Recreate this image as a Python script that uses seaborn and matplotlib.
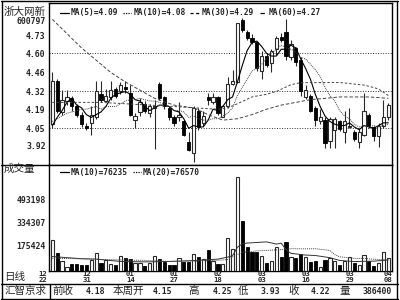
import numpy as np
import pandas as pd
import matplotlib
matplotlib.use("Agg")
import matplotlib.pyplot as plt
import seaborn as sns
from matplotlib.lines import Line2D

sns.set_theme(style="white")
plt.rcParams['font.family'] = ['DejaVu Sans Mono', 'Noto Sans CJK SC']

# ---------------- data ----------------
opens = [4.08, 4.40, 4.17, 4.25, 4.27, 4.21, 4.15, 4.07, 4.09, 4.13,
         4.30, 4.25, 4.28, 4.34, 4.32, 4.35, 4.31, 4.11, 4.17, 4.23,
         4.16, 4.20, 4.375, 4.28, 4.20, 4.13, 4.13, 4.10, 3.95, 3.87,
         4.18, 4.09, 4.28, 4.24, 4.28, 4.13, 4.21, 4.375, 4.39, 4.845,
         4.76, 4.71, 4.68, 4.47, 4.58, 4.53, 4.63, 4.72, 4.757, 4.57,
         4.64, 4.55, 4.28, 4.29, 4.20, 4.10, 4.11, 3.96, 4.04, 4.10,
         4.02, 4.06, 4.02, 3.95, 4.00, 4.15, 4.06, 3.99, 4.07, 4.13]
highs = [4.46, 4.41, 4.33, 4.33, 4.29, 4.23, 4.17, 4.09, 4.21, 4.40,
         4.40, 4.34, 4.40, 4.35, 4.39, 4.40, 4.37, 4.16, 4.27, 4.25,
         4.23, 4.26, 4.39, 4.29, 4.21, 4.15, 4.24, 4.11, 4.02, 4.21,
         4.20, 4.18, 4.31, 4.31, 4.29, 4.22, 4.43, 4.48, 4.82, 4.86,
         4.77, 4.74, 4.68, 4.62, 4.60, 4.63, 4.73, 4.75, 4.85, 4.70,
         4.65, 4.57, 4.37, 4.30, 4.21, 4.19, 4.13, 4.13, 4.13, 4.11,
         4.18, 4.20, 4.04, 4.05, 4.31, 4.16, 4.07, 4.09, 4.26, 4.235]
lows = [4.05, 4.16, 4.15, 4.22, 4.18, 4.13, 4.06, 4.04, 4.00, 4.12,
        4.24, 4.24, 4.26, 4.27, 4.30, 4.31, 4.14, 4.05, 4.14, 4.16,
        4.13, 3.90, 4.26, 4.19, 4.11, 4.07, 4.10, 3.99, 3.88, 3.80,
        4.04, 4.07, 4.22, 4.23, 4.15, 4.13, 4.20, 4.37, 4.38, 4.76,
        4.70, 4.67, 4.47, 4.41, 4.50, 4.46, 4.59, 4.68, 4.55, 4.55,
        4.51, 4.29, 4.265, 4.17, 4.07, 4.08, 3.905, 3.905, 3.905, 4.03,
        3.94, 4.05, 3.96, 3.905, 3.99, 4.05, 3.96, 3.91, 4.05, 4.11]
closes = [4.40, 4.18, 4.26, 4.28, 4.21, 4.15, 4.08, 4.05, 4.15, 4.32,
          4.26, 4.29, 4.33, 4.29, 4.37, 4.34, 4.15, 4.14, 4.24, 4.18,
          4.21, 4.21, 4.27, 4.21, 4.13, 4.09, 4.15, 4.00, 3.89, 4.20,
          4.06, 4.14, 4.26, 4.28, 4.16, 4.21, 4.375, 4.40, 4.82, 4.77,
          4.71, 4.68, 4.49, 4.58, 4.515, 4.62, 4.71, 4.70, 4.58, 4.67,
          4.54, 4.32, 4.33, 4.18, 4.11, 4.13, 3.94, 4.12, 4.12, 4.045,
          4.10, 4.07, 3.97, 4.02, 4.18, 4.07, 3.99, 4.07, 4.13, 4.22]
volumes = [214, 127, 69, 30, 48, 48, 41, 41, 76, 127,
           53, 76, 48, 41, 104, 87, 83, 53, 53, 35,
           57, 104, 81, 64, 41, 44, 88, 63, 63, 116,
           100, 85, 145, 70, 48, 45, 227, 152, 651, 343,
           168, 130, 133, 104, 57, 69, 163, 99, 202, 99,
           87, 117, 99, 62, 69, 25, 76, 87, 69, 41,
           69, 94, 57, 41, 110, 71, 37, 57, 129, 87]  # thousands

ma5 = [4.07, 4.13, 4.18, 4.24, 4.27, 4.22, 4.20, 4.15, 4.13, 4.15,
       4.17, 4.21, 4.27, 4.30, 4.31, 4.32, 4.30, 4.26, 4.25, 4.21,
       4.18, 4.20, 4.22, 4.22, 4.21, 4.18, 4.17, 4.12, 4.05, 4.07,
       4.06, 4.06, 4.11, 4.19, 4.18, 4.21, 4.26, 4.28, 4.39, 4.51,
       4.62, 4.68, 4.69, 4.65, 4.60, 4.58, 4.58, 4.63, 4.63, 4.66,
       4.64, 4.56, 4.49, 4.41, 4.30, 4.21, 4.14, 4.10, 4.08, 4.07,
       4.07, 4.09, 4.06, 4.04, 4.07, 4.06, 4.05, 4.07, 4.09, 4.09]
ma10 = [4.10, 4.12, 4.14, 4.16, 4.17, 4.18, 4.19, 4.19, 4.20, 4.21,
        4.19, 4.21, 4.21, 4.21, 4.23, 4.25, 4.26, 4.26, 4.27, 4.26,
        4.25, 4.25, 4.24, 4.23, 4.21, 4.18, 4.18, 4.17, 4.13, 4.14,
        4.12, 4.11, 4.11, 4.12, 4.12, 4.14, 4.16, 4.20, 4.29, 4.35,
        4.41, 4.47, 4.49, 4.52, 4.56, 4.60, 4.63, 4.66, 4.64, 4.63,
        4.61, 4.57, 4.56, 4.52, 4.48, 4.43, 4.35, 4.29, 4.25, 4.18,
        4.14, 4.12, 4.08, 4.06, 4.07, 4.06, 4.07, 4.06, 4.07, 4.08]
ma30_idx = [0, 5, 10, 15, 20, 25, 29, 34, 36, 38, 41, 44, 46, 49, 51, 54, 59, 64, 66, 67, 68, 69]
ma30_val = [4.24, 4.24, 4.24, 4.23, 4.22, 4.21, 4.20, 4.19, 4.20, 4.23, 4.28, 4.30, 4.32,
            4.37, 4.385, 4.385, 4.386, 4.367, 4.349, 4.338, 4.315, 4.29]
ma60_idx = [0, 2, 4, 6, 8, 10, 12, 15, 18, 21, 25, 29, 32, 35, 38, 41, 44, 47, 50, 53,
            56, 59, 62, 65, 69]
ma60_val = [4.85, 4.78, 4.71, 4.64, 4.58, 4.52, 4.46, 4.39, 4.33, 4.27, 4.22, 4.20, 4.15,
            4.11, 4.12, 4.15, 4.19, 4.22, 4.24, 4.26, 4.27, 4.28, 4.28, 4.28, 4.27]
vma10_idx = [0, 3, 6, 9, 14, 19, 24, 29, 34, 36, 37, 38, 39, 40, 42, 44, 46, 47, 48, 49,
             52, 54, 57, 59, 62, 64, 66, 69]
vma10_val = [100, 92, 85, 82, 66, 63, 66, 72, 82, 96, 105, 164, 187, 193, 197, 201, 186,
             192, 147, 122, 110, 107, 92, 73, 65, 67, 68, 76]
vma20_idx = [0, 5, 10, 15, 19, 24, 29, 34, 36, 38, 39, 42, 44, 47, 49, 52, 54, 57, 58,
             59, 62, 64, 66, 69]
vma20_val = [88, 85, 80, 76, 73, 66, 68, 74, 79, 114, 129, 139, 142, 148, 154, 153, 154,
             142, 113, 98, 87, 87, 81, 77]

price_ticks = [3.92, 4.05, 4.19, 4.32, 4.46, 4.60, 4.73]
price_grid = [4.05, 4.32, 4.60]
vol_ticks = [175424, 334307, 493198]
date_idx = [0, 9, 18, 27, 36, 45, 54, 63, 69]
date_top = ["12", "12", "01", "01", "02", "03", "03", "03", "04"]
date_bot = ["22", "31", "14", "27", "18", "03", "16", "29", "08"]
legend_main = ["MA(5)=4.09", "MA(10)=4.08", "MA(30)=4.29", "MA(60)=4.27"]
legend_vol = ["MA(10)=76235", "MA(20)=76570"]
info_labels = ["前收", "本周开", "高", "低", "收", "量"]
info_values = ["4.18", "4.15", "4.25", "3.93", "4.22", "386400"]

# ---------------- figure ----------------
W, H = 400, 300
fig = plt.figure(figsize=(4, 3), dpi=100)
fig.patch.set_facecolor("white")


def fx(x):
    return x / W


def fy(y):
    return 1 - y / H


ax = fig.add_axes([fx(49), fy(165), (392 - 49) / W, (165 - 3) / H])
axv = fig.add_axes([fx(49), fy(271), (392 - 49) / W, (271 - 165) / H])

df = pd.DataFrame({"i": np.arange(len(closes)), "o": opens, "h": highs,
                   "l": lows, "c": closes, "v": np.array(volumes) * 1000.0})
up = df["c"] >= df["o"]
bw = 0.66
edge = "#2a2a2a"

# candles
ax.vlines(df["i"], df["l"], df["h"], color=edge, lw=0.8, zorder=2)
body_lo = np.minimum(df["o"], df["c"])
body_h = np.maximum(np.abs(df["c"] - df["o"]), 0.004)
ax.bar(df["i"][up], body_h[up], bottom=body_lo[up], width=bw,
       color="white", edgecolor=edge, linewidth=0.8, zorder=3)
ax.bar(df["i"][~up], body_h[~up], bottom=body_lo[~up], width=bw,
       color="black", edgecolor="black", linewidth=0.6, zorder=3)

# moving averages
styles = {
    "ma5": dict(color="black", lw=0.8, linestyle="-"),
    "ma10": dict(color="#444444", lw=0.7, linestyle=(0, (1, 1))),
    "ma30": dict(color="#444444", lw=0.7, linestyle=(0, (2.5, 2))),
    "ma60": dict(color="#444444", lw=0.7, linestyle=(0, (3.5, 2))),
}
sns.lineplot(x=df["i"], y=ma5, ax=ax, zorder=4, **styles["ma5"])
sns.lineplot(x=df["i"], y=ma10, ax=ax, zorder=4, **styles["ma10"])
sns.lineplot(x=ma30_idx, y=ma30_val, ax=ax, zorder=4, **styles["ma30"])
sns.lineplot(x=ma60_idx, y=ma60_val, ax=ax, zorder=4, **styles["ma60"])

for g in price_grid:
    ax.axhline(g, color="#333333", lw=0.7, linestyle=(0, (1, 1.6)), zorder=1)

ax.set_xlim(-0.68, 69.75)
ax.set_ylim(3.7805, 4.9696)
ax.set_xticks([])
ax.set_yticks(price_ticks)
ax.set_yticklabels([f"{t:.2f}" for t in price_ticks], fontsize=5.9, fontweight="bold")
ax.tick_params(axis="y", length=0, pad=2.5)
ax.set_xlabel("")
ax.set_ylabel("")

# volume
axv.bar(df["i"][up], df["v"][up], width=bw, color="white", edgecolor=edge,
        linewidth=0.8, zorder=3)
axv.bar(df["i"][~up], df["v"][~up], width=bw, color="black", edgecolor="black",
        linewidth=0.6, zorder=3)
sns.lineplot(x=vma10_idx, y=np.array(vma10_val) * 1000.0, ax=axv, color="#333333",
             lw=0.7, zorder=4)
sns.lineplot(x=vma20_idx, y=np.array(vma20_val) * 1000.0, ax=axv, color="#444444",
             lw=0.7, zorder=4, linestyle=(0, (1, 1)))
axv.set_xlim(-0.68, 69.75)
axv.set_ylim(0, 732000)
axv.set_xticks([])
axv.set_yticks(vol_ticks)
axv.set_yticklabels([str(t) for t in vol_ticks], fontsize=5.9, fontweight="bold")
axv.tick_params(axis="y", length=0, pad=2.5)
axv.set_xlabel("")
axv.set_ylabel("")

for a in (ax, axv):
    for s in a.spines.values():
        s.set_color("black")
        s.set_linewidth(1.0)

mono = dict(fontsize=5.9, fontweight="bold", family=["DejaVu Sans Mono"])
mono_leg = dict(fontsize=5.7, fontweight="bold", family=["DejaVu Sans Mono"])
cjk = dict(fontsize=7.6, family=["Noto Sans CJK SC", "DejaVu Sans"])


def seg(x0, x1, y, **kw):
    fig.add_artist(Line2D([fx(x0), fx(x1)], [fy(y), fy(y)], **kw))


# left labels
fig.text(fx(4), fy(12), "浙大网新", va="center", ha="left", **cjk)
fig.text(fx(46), fy(22), "600797", va="center", ha="right", **mono)
fig.text(fx(4), fy(169), "成交量", va="center", ha="left", **cjk)
fig.text(fx(4), fy(277), "日线", va="center", ha="left", **cjk)

# legends: short line sample + label
main_pos = [(60, 69, 71), (123, 131, 134), (190, 199, 202), (260, 267, 269)]
main_sty = ["ma5", "ma10", "ma30", "ma60"]
for (s0, s1, lx), key, lab in zip(main_pos, main_sty, legend_main):
    st = dict(styles[key])
    st["color"] = "black"
    st["lw"] = 0.9
    seg(s0, s1, 13, **st)
    fig.text(fx(lx), fy(13), lab, va="center", ha="left", **mono_leg)
vol_pos = [(60, 69, 71), (133, 141, 143)]
vol_sty = ["ma5", "ma10"]
for (s0, s1, lx), key, lab in zip(vol_pos, vol_sty, legend_vol):
    st = dict(styles[key])
    st["color"] = "black"
    st["lw"] = 0.9
    seg(s0, s1, 172, **st)
    fig.text(fx(lx), fy(172), lab, va="center", ha="left", **mono_leg)

# date labels
for k, (i, t, b) in enumerate(zip(date_idx, date_top, date_bot)):
    xd = 52.3 + 4.87 * i - (0 if k == len(date_idx) - 1 else 9.5)
    fig.text(fx(xd), fy(274), t, va="center", ha="center", fontsize=5.2,
             fontweight="bold", family=["DejaVu Sans Mono"])
    fig.text(fx(xd), fy(280.5), b, va="center", ha="center", fontsize=5.2,
             fontweight="bold", family=["DejaVu Sans Mono"])

# info bar
lab_x = [52, 113, 188, 238, 288, 340]
val_x = [105, 172, 232, 280, 330, 392]
fig.text(fx(5), fy(291), "汇智京求", va="center", ha="left", **cjk)
for lx, lt, vx, vt in zip(lab_x, info_labels, val_x, info_values):
    fig.text(fx(lx), fy(291), lt, va="center", ha="left", **cjk)
    fig.text(fx(vx), fy(291), vt, va="center", ha="right", **mono)


def hline(y, x0, x1, lw=1.0):
    fig.add_artist(Line2D([fx(x0), fx(x1)], [fy(y), fy(y)], color="black", lw=lw))


def vline(x, y0, y1, lw=1.0):
    fig.add_artist(Line2D([fx(x), fx(x)], [fy(y0), fy(y1)], color="black", lw=lw))


hline(1, 1, 398)
vline(1.5, 1, 299)
vline(396.5, 1, 299)
hline(284, 1, 398)
hline(298.5, 1, 398)
vline(50, 284, 298.5)
hline(165, 1, 49)

fig.savefig("out.png", dpi=100)
